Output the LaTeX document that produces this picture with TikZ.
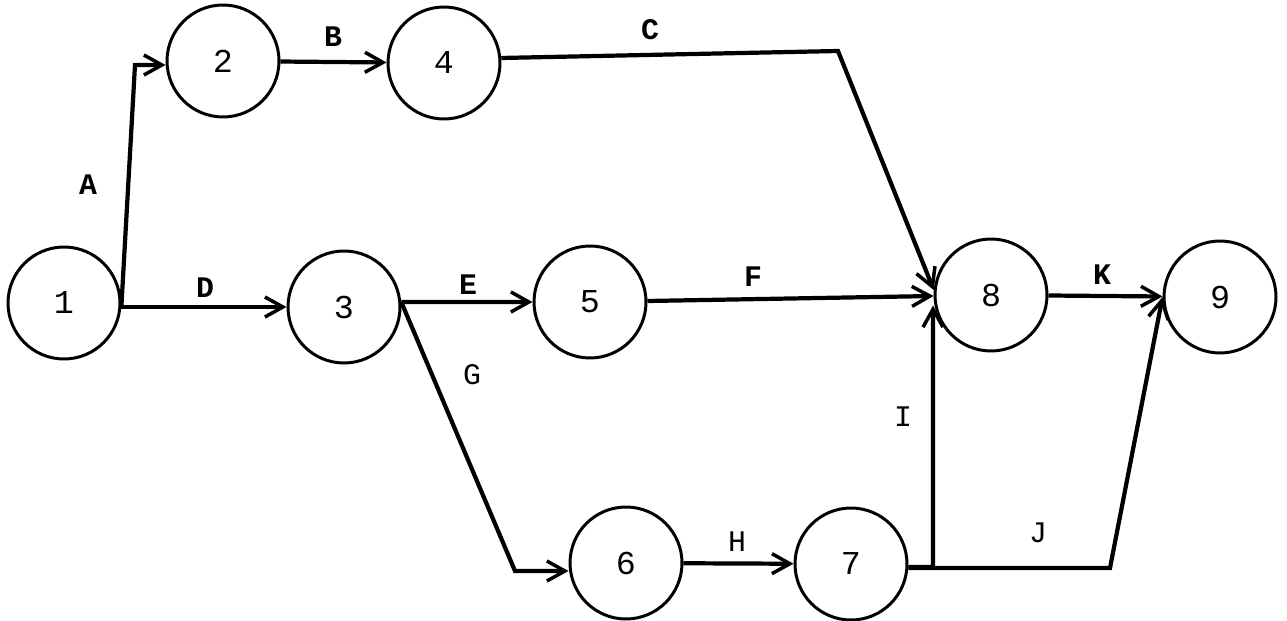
\documentclass[tikz,border=0pt]{standalone}
\usepackage{fontspec}
\setmonofont{Liberation Mono}
\usetikzlibrary{arrows.meta}
\begin{document}
\begin{tikzpicture}[x=0.02cm,y=-0.02cm,
  event/.style={circle, draw, line width=1.7pt, minimum size=2.24cm, inner sep=0pt,
    font=\ttfamily\fontsize{19}{19}\selectfont},
  act/.style={line width=2.4pt,
    -{Straight Barb[length=3.6mm,width=4mm,line width=2pt]}},
  tag/.style={font=\ttfamily\bfseries\fontsize{17}{17}\selectfont},
  tagl/.style={font=\ttfamily\fontsize{17}{17}\selectfont}]
\useasboundingbox (0,0) rectangle (1287,621);

% events
\node[event] (n1) at (64,303)  {1};
\node[event] (n2) at (223,61)  {2};
\node[event] (n4) at (444,63)  {4};
\node[event] (n3) at (344,307) {3};
\node[event] (n5) at (590,302) {5};
\node[event] (n8) at (991,295) {8};
\node[event] (n9) at (1220,297){9};
\node[event] (n6) at (626,563) {6};
\node[event] (n7) at (851,564) {7};

% bend points
\coordinate (aK) at (135,65);
\coordinate (cK) at (838,51);
\coordinate (gK) at (515,571);
\coordinate (iK) at (933,567);
\coordinate (jK) at (1110,568);

% activities
\draw[act] (n1.-4) -- (aK) -- (aK -| n2.west);
\draw[act] (n1.-4) -- (n1.-4 -| n3.west);
\draw[act] (n2) -- (n4);
\draw[act] (n4.5) -- (cK) -- (n8.175);
\draw[act] (n3.5) -- (n5);
\draw[act] (n3.5) -- (gK) -- (gK -| n6.west);
\draw[act] (n5) -- (n8);
\draw[act] (n6) -- (n7);
\draw[act] (n7.-3) -- (iK) -- ([yshift=-6pt]iK |- n8.west);
\draw[act] (n7.-4) -- (jK) -- (n9.west);
\draw[act] (n8) -- (n9);

% activity labels
\node[tag]  (lA) at (88,185)  {A};
\node[tag]  (lB) at (333,37)  {B};
\node[tag]  (lC) at (650,30)  {C};
\node[tag]  (lD) at (205,288) {D};
\node[tag]  (lE) at (468,285) {E};
\node[tag]  (lF) at (753,277) {F};
\node[tagl] (lG) at (472,375) {G};
\node[tagl] (lH) at (737,542) {H};
\node[tagl] (lI) at (903,417) {I};
\node[tagl] (lJ) at (1038,533){J};
\node[tag]  (lK) at (1102,275){K};
\end{tikzpicture}
\end{document}
